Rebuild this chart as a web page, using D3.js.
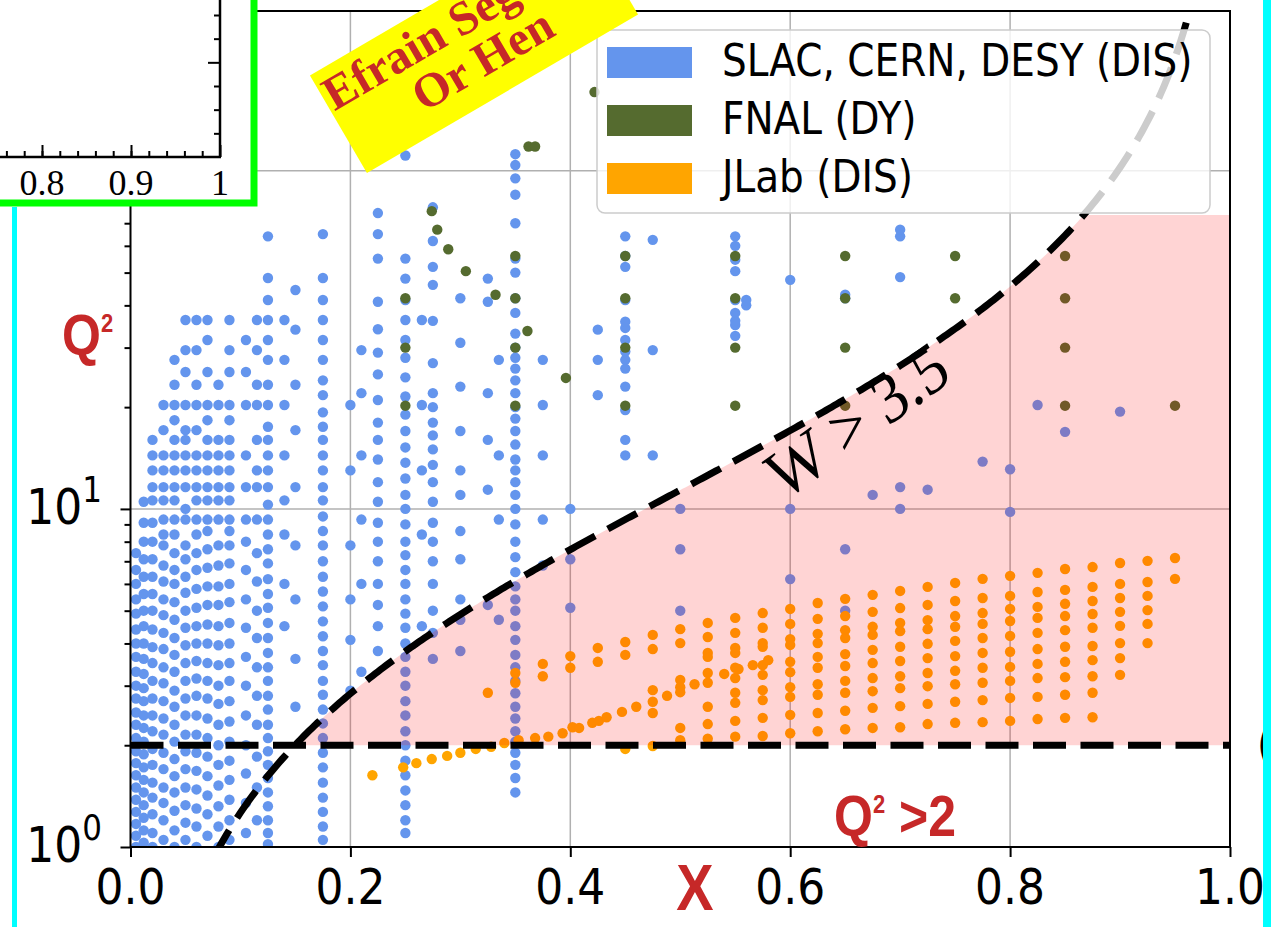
<!DOCTYPE html>
<html>
<head>
<meta charset="utf-8">
<script src="https://cdn.jsdelivr.net/npm/d3@7"></script>
<style>
body { margin: 0; background: #fff; }
svg { display: block; }
</style>
</head>
<body>
<svg id="chart" width="1271" height="927"></svg>
<script>

// ---- data (x Bjorken, Q2 in GeV^2) ----
const xTicks = [0, 0.2, 0.4, 0.6, 0.8, 1.0];
const yMajor = [1, 10, 100];
const yLabelled = [1, 10];   // 10^2 sits under the pasted inset
const legendLabels = ["SLAC, CERN, DESY (DIS)", "FNAL (DY)", "JLab (DIS)"];

// SLAC / CERN / DESY: one x per column, list of Q2 in that column
const slacX = [0.005, 0.012, 0.02, 0.03, 0.04, 0.05, 0.06, 0.07, 0.08, 0.09,
  0.105, 0.115, 0.125, 0.14, 0.15, 0.175, 0.2, 0.21, 0.225, 0.25,
  0.265, 0.275, 0.3, 0.325, 0.335, 0.35, 0.375, 0.4, 0.425, 0.45,
  0.475, 0.5, 0.55, 0.56, 0.6, 0.65, 0.675, 0.7, 0.725, 0.775,
  0.8, 0.825, 0.85, 0.9];
const slacQ2 = [
  [1.0,1.08,1.17,1.27,1.38,1.5,1.63,1.77,1.92,2.1,2.3,2.5,2.75,3.0,3.3,3.65,4.0,4.4,4.9,5.4,6.0,6.6,7.4],
  [1.03,1.12,1.22,1.33,1.45,1.58,1.72,1.88,2.05,2.25,2.45,2.7,2.95,3.25,3.6,4.0,4.5,5.0,5.6,6.3,7.1,8.0,9.1,10.5],
  [1.0,1.1,1.25,1.4,1.55,1.75,1.95,2.2,2.45,2.75,3.1,3.5,3.9,4.4,5.0,5.6,6.3,7.1,8.0,9.1,10.6,11.6,13,14.4,16],
  [1.05,1.2,1.35,1.5,1.7,1.9,2.15,2.4,2.7,3.05,3.4,3.85,4.3,4.85,5.4,6.1,6.8,7.8,8.4,9.3,10.6,11.6,13,14.4,17.1,20.3],
  [1.0,1.12,1.28,1.45,1.62,1.82,2.05,2.3,2.6,2.9,3.3,3.7,4.15,4.7,5.3,6.0,6.6,7.4,8.4,9.3,10.6,11.6,13,14.4,16,18.3,20.3,23.3,27.6],
  [1.05,1.18,1.33,1.5,1.7,1.92,2.15,2.45,2.75,3.1,3.5,3.95,4.45,5.0,5.65,6.3,7.1,7.8,9.3,10,11.6,13,14.4,16,17.1,20.3,25.4,29.5,36.2],
  [1.0,1.15,1.3,1.48,1.68,1.9,2.15,2.45,2.8,3.15,3.55,4.0,4.5,5.1,5.8,6.6,7.4,8.4,9.3,10.6,11.6,13,14.4,17.1,20.3,23.3,29.5,36.2],
  [1.08,1.25,1.42,1.62,1.85,2.1,2.4,2.75,3.1,3.5,4.0,4.55,5.2,5.9,6.7,7.6,8.6,9.3,10.6,11.6,13,14.4,16,18.3,20.3,25.4,31.6,36.2],
  [1.0,1.15,1.32,1.52,1.75,2.0,2.3,2.65,3.0,3.45,3.95,4.5,5.2,5.9,6.8,7.8,9.3,10.6,11.6,13,14.4,16,20.3,23.3],
  [1.05,1.2,1.38,1.58,1.8,2.05,2.35,2.7,3.1,3.5,4.0,4.6,5.3,6.0,6.9,7.8,8.6,9.3,10.6,11.6,13,14.4,16,18.3,20.3,25.4,29.5,36.2],
  [1.1,1.35,1.65,2.0,2.45,3.0,3.65,4.45,5.4,6.6,8.0,9.3,11.6,14.4,20.3,25.4,31.6],
  [1.2,1.5,1.85,2.3,2.8,3.4,4.15,5.0,6.1,7.4,9.3,11.6,13,16,20.3,23.3,29.5,36.2],
  [1.02,1.1,1.2,1.32,1.45,1.6,1.75,1.92,2.1,2.3,2.55,2.8,3.1,3.4,3.75,4.15,4.6,5.1,5.6,6.2,6.9,7.6,8.4,9.3,10.3,11.6,13,14.4,16,17.5,20.3,23.3,27.6,31.6,36.2,41.5,48.2,64],
  [4.5,6.0,8.4,10.6,14.4,20.3,27.6,36.2],
  [2.6,3.6,5.4,7.8,11.6,17.1,23.3,33.9,44.4],
  [1.05,1.15,1.27,1.4,1.55,1.72,1.9,2.1,2.32,2.55,2.82,3.1,3.45,3.8,4.2,4.65,5.15,5.7,6.3,7.0,7.8,8.6,9.5,10.6,11.6,13,14.4,16,17.5,19.3,21.7,24,27.6,31.6,36.2,41.5,48.2,65],
  [2.9,4.1,5.4,7.8,13,20.3],
  [3.3,6.0,9.3,14.4,22,29.5],
  [3.8,4.5,5.2,6.0,7.0,8.0,9.1,10.5,12,14,16,18,21,25,29,34,41,55,65,75],
  [1.1,1.2,1.33,1.47,1.63,1.8,2.0,2.2,2.45,2.7,3.0,3.3,3.65,4.0,4.45,4.9,5.4,6.0,6.6,7.3,8.0,9.0,10,11,12.3,13.7,15.2,17,19,21.5,24.5,28,31.6,36.2,41.5,48,55,111],
  [4.5,8.4,13,20.3,36.2],
  [3.6,4.3,5.0,6.0,7.0,8.0,9.1,10.5,12,13.5,15,16.5,18,20,22,27,36,46,52,62,78],
  [3.8,4.7,5.4,7.1,8.6,11,13,17,23,31,42],
  [5.2,11.4,16,22,41,48],
  [4.7,9.3,14.4,27.6],
  [1.45,1.6,1.75,1.9,2.05,2.2,2.4,2.6,2.85,3.1,3.4,3.7,4.1,4.5,5.0,5.4,5.9,6.5,7.2,8.0,9.0,10.0,11,12,13,14,15.5,17,18.5,20,22,24,26,28,30,33,38,42,50,55,70,85,95,104,112],
  [6.8,9.3,14.4,20.3,27.6],
  [5.1,7.1,10],
  [21.7,27.6,33.9],
  [14.4,16,19.6,23,26,27.6,29.2,31.6,34.3,35.8,41.5,52,56,64],
  [14.4,29.5,62.5],
  [5.0,7.6,10],
  [32.5,35,36,38,41.5,50.5,54.6,60,64],
  [40,41.5],
  [6.2,10,47.6],
  [5.0,7.6,42,43],
  [11],
  [10,11.6,48.5,64,67],
  [11.4],
  [13.8],
  [9.8,13.1],
  [20.3],
  [16.9],
  [19.4]
];

// FNAL Drell-Yan points
const fnalX = [0.25,0.25,0.25, 0.274,0.279,0.289,0.305,0.332,0.361,0.396,
  0.35,0.35,0.35,0.35, 0.362,0.368, 0.422,
  0.45,0.45,0.45,0.45, 0.55,0.55,0.55,0.55, 0.65,0.65,0.65,0.65,
  0.75,0.75, 0.85,0.85,0.85,0.85, 0.95];
const fnalQ2 = [42,30,20.2, 76,67,58.6,50.5,43,33.6,24.4,
  56,42,30,20.2, 118,118, 171,
  56,42,30,20.2, 56,42,30,20.2, 56,42,30,20.2,
  56,42, 56,42,30,20.2, 20.2];

// JLab: grid columns
const jlabX = [0.325, 0.35, 0.375, 0.4, 0.425, 0.45, 0.475, 0.5, 0.525, 0.55, 0.575,
  0.6, 0.625, 0.65, 0.675, 0.7, 0.725, 0.75, 0.775, 0.8, 0.825, 0.85, 0.875, 0.9, 0.925, 0.95];
const jlabQ2 = [
  [2.86],
  [3.27,3.06],
  [3.48,3.2],
  [3.67,3.39],
  [3.88,3.53],
  [4.04,3.7,1.95],
  [4.24,3.85,2.91,2.69,2.49,1.99],
  [4.41,4.01,3.12,2.97,2.87,2.25,2.07],
  [4.6,4.18,3.75,3.65,3.27,3.06,2.6,2.31,2.09],
  [4.76,4.3,3.88,3.75,3.39,3.16,2.86,2.67,2.36,2.12],
  [4.92,4.45,4.01,3.91,3.45,3.23,2.91,2.72,2.41,2.13],
  [5.06,4.57,4.12,3.96,3.53,3.29,2.97,2.78,2.46,2.17],
  [5.27,4.73,4.27,4.01,3.65,3.39,3.03,2.82,2.49,2.2],
  [5.42,4.82,4.38,4.15,3.72,3.43,3.1,2.86,2.53,2.23],
  [5.57,4.96,4.48,4.24,3.83,3.5,3.16,2.89,2.58,2.25],
  [5.72,5.09,4.6,4.35,3.91,3.55,3.2,2.95,2.61,2.26],
  [5.88,5.2,4.69,4.41,3.99,3.62,3.27,2.99,2.65,2.31],
  [6.04,5.34,4.82,4.48,4.07,3.67,3.32,3.03,2.69,2.33],
  [6.21,5.45,4.92,4.57,4.15,3.75,3.39,3.06,2.72,2.34],
  [6.34,5.53,5.06,4.66,4.21,3.78,3.41,3.1,2.76,2.36],
  [6.47,5.68,5.13,4.76,4.3,3.85,3.48,3.16,2.78,2.39],
  [6.64,5.76,5.24,4.82,4.38,3.91,3.53,3.18,2.82,2.41],
  [6.73,5.88,5.34,4.89,4.45,3.93,3.57,3.2,2.86,2.42],
  [6.92,6.0,5.45,4.96,4.51,4.01,3.62,3.23],
  [7.02,6.08,5.53,5.02,4.57,4.01],
  [7.16,6.21]
];
// JLab: low-Q2 diagonal run
const jlabLowX = [0.22,0.248,0.26,0.274,0.288,0.3,0.314,0.328,0.34,0.353,0.368,0.38,0.393,
  0.402,0.408,0.42,0.426,0.433,0.447,0.46,0.488,0.513,0.54,0.553,0.566,0.58];
const jlabLowQ2 = [1.63,1.72,1.77,1.82,1.86,1.9,1.95,1.98,2.03,2.07,2.1,2.12,2.17,
  2.26,2.25,2.33,2.36,2.42,2.51,2.6,2.8,3.03,3.25,3.36,3.45,3.57];

// kinematic cuts
const W_CUT = 3.5, M_P = 0.938, Q2_CUT = 2, Q2_BAND_TOP = 74;

// ---- drawing ----
const SY = 1.15; // the picture is stretched a little vertically
const colors = {slac: "#6495ed", fnal: "#556b2f", jlab: "#ffa500"};
const svg = d3.select("#chart");

const x = d3.scaleLinear().domain([0, 1]).range([130.5, 1230]);
const y = d3.scaleLog().domain([1, 297]).range([847, 11]);

svg.append("defs").append("clipPath").attr("id", "plotclip")
  .append("rect").attr("x", x(0)).attr("y", y(297))
  .attr("width", x(1) - x(0)).attr("height", y(1) - y(297));

// grid
const grid = svg.append("g").attr("stroke", "#b0b0b0").attr("stroke-width", 1.5);
xTicks.slice(1, -1).forEach(t => grid.append("line")
  .attr("x1", x(t)).attr("x2", x(t)).attr("y1", y(297)).attr("y2", y(1)));
yMajor.slice(1).forEach(t => grid.append("line")
  .attr("x1", x(0)).attr("x2", x(1)).attr("y1", y(t)).attr("y2", y(t)));

const plot = svg.append("g").attr("clip-path", "url(#plotclip)");

function flatten(xs, qs) {
  const out = [];
  xs.forEach((xv, i) => qs[i].forEach(q => out.push([xv, q])));
  return out;
}
const slacPts = flatten(slacX, slacQ2);
const fnalPts = fnalX.map((v, i) => [v, fnalQ2[i]]);
const jlabPts = flatten(jlabX, jlabQ2).concat(jlabLowX.map((v, i) => [v, jlabLowQ2[i]]));

[[slacPts, colors.slac], [fnalPts, colors.fnal], [jlabPts, colors.jlab]].forEach(([pts, c]) => {
  plot.append("g").selectAll("circle").data(pts).enter().append("circle")
    .attr("cx", d => x(d[0])).attr("cy", d => y(d[1]))
    .attr("r", 5.2).attr("fill", c);
});

// W cut curve
const wQ2 = xv => (W_CUT * W_CUT - M_P * M_P) * xv / (1 - xv);
const xs = d3.range(0.075, 0.97, 0.0025);
const xStart = Q2_CUT / (Q2_CUT + W_CUT * W_CUT - M_P * M_P);
const bandX = [xStart].concat(xs.filter(v => v > xStart)).concat([1]);

plot.append("path")
  .datum(bandX)
  .attr("d", d3.area()
    .x(d => x(d))
    .y0(y(Q2_CUT))
    .y1(d => y(Math.min(d >= 1 ? Q2_BAND_TOP : wQ2(d), Q2_BAND_TOP))))
  .attr("fill", "#ff0000").attr("fill-opacity", 0.17);

plot.append("line")
  .attr("x1", x(0)).attr("x2", x(1)).attr("y1", y(Q2_CUT)).attr("y2", y(Q2_CUT))
  .attr("stroke", "#000").attr("stroke-width", 7).attr("stroke-dasharray", "33,14.5");

plot.append("path")
  .datum(xs)
  .attr("d", d3.line().x(d => x(d)).y(d => y(wQ2(d))))
  .attr("fill", "none").attr("stroke", "#000").attr("stroke-width", 7)
  .attr("stroke-dasharray", "33,14.5");

// axes
const xAxis = svg.append("g").attr("transform", `translate(0,${y(1)})`)
  .call(d3.axisBottom(x).tickValues(xTicks).tickSize(10).tickFormat(""));
const yAxis = svg.append("g").attr("transform", `translate(${x(0)},0)`)
  .call(d3.axisLeft(y).tickValues(yMajor).tickSize(10).tickFormat(""));
const yMinor = [];
[1, 10, 100].forEach(d => d3.range(2, 10).forEach(k => { if (d * k < 297) yMinor.push(d * k); }));
svg.append("g").attr("transform", `translate(${x(0)},0)`)
  .call(d3.axisLeft(y).tickValues(yMinor).tickSize(6).tickFormat(""))
  .select(".domain").remove();
svg.selectAll(".tick line").attr("stroke", "#000").attr("stroke-width", 2);
xAxis.select(".domain").remove();
yAxis.select(".domain").remove();

// frame
svg.append("rect").attr("x", x(0)).attr("y", y(297))
  .attr("width", x(1) - x(0)).attr("height", y(1) - y(297))
  .attr("fill", "none").attr("stroke", "#000").attr("stroke-width", 2);

function sText(px, py, str, size, family, anchor) {
  const g = svg.append("g").attr("transform", `translate(${px},${py}) scale(1,${SY})`);
  const t = g.append("text").attr("font-size", size).attr("font-family", family)
    .attr("text-anchor", anchor || "start").attr("fill", "#000");
  if (str) t.text(str);
  return t;
}
const SANS = "DejaVu Sans, sans-serif";

xTicks.forEach(t => sText(x(t), 904, d3.format(".1f")(t), 44, SANS, "middle"));
yLabelled.forEach(t => {
  const e = Math.round(Math.log10(t));
  const txt = sText(102, y(t) + 15, null, 44, SANS, "end");
  txt.append("tspan").text("10");
  txt.append("tspan").attr("font-size", 31).attr("dy", -19).text(e);
});

// legend
const lg = svg.append("g");
lg.append("rect").attr("x", 597).attr("y", 30).attr("width", 613).attr("height", 183)
  .attr("rx", 8).attr("fill", "#fff").attr("fill-opacity", 0.8)
  .attr("stroke", "#cccccc").attr("stroke-width", 1.5);
[colors.slac, colors.fnal, colors.jlab].forEach((c, i) => {
  const cy = 62 + i * 58;
  lg.append("rect").attr("x", 607).attr("y", cy - 15).attr("width", 85).attr("height", 31).attr("fill", c);
  sText(722, cy + 14, legendLabels[i], 39, SANS, "start");
});

// annotations
const RED = "#c62828";
sText(783, 502, null, 62, "Liberation Serif, Times New Roman, serif")
  .attr("transform", "rotate(-32)").text("W > 3.5");

const q2L = sText(62, 355, null, 50, "Liberation Sans, Arial, sans-serif")
  .attr("font-weight", "bold").attr("fill", RED);
q2L.append("tspan").text("Q");
q2L.append("tspan").attr("font-size", 22).attr("dy", -20).text("2");

sText(695, 910, "X", 56, "Liberation Sans Narrow, Liberation Sans, sans-serif", "middle")
  .attr("font-weight", "bold").attr("fill", RED);

const q2R = sText(834, 836, null, 50, "Liberation Sans, Arial, sans-serif")
  .attr("font-weight", "bold").attr("fill", RED);
q2R.append("tspan").text("Q");
q2R.append("tspan").attr("font-size", 22).attr("dy", -20).text("2");
q2R.append("tspan").attr("dy", 20).attr("font-size", 50).text(" >2");

sText(1257, 760, "(", 40, SANS, "start");

// yellow name tag
const tag = svg.append("g").attr("transform", "translate(474,45) rotate(-30.3)");
tag.append("rect").attr("x", -157).attr("y", -56.5).attr("width", 314).attr("height", 113).attr("fill", "#ffff00");
tag.append("text").attr("x", 0).attr("y", -13).attr("text-anchor", "middle")
  .attr("font-family", "Liberation Serif, Times New Roman, serif").attr("font-weight", "bold")
  .attr("font-size", 48).attr("fill", RED).text("Efrain Segarra");
tag.append("text").attr("x", 0).attr("y", 33).attr("text-anchor", "middle")
  .attr("font-family", "Liberation Serif, Times New Roman, serif").attr("font-weight", "bold")
  .attr("font-size", 48).attr("fill", RED).text("Or Hen");

// inset from another figure, top-left
const inset = svg.append("g");
inset.append("rect").attr("x", -10).attr("y", -10).attr("width", 264).attr("height", 213)
  .attr("fill", "#fff").attr("stroke", "#00ff00").attr("stroke-width", 7);
const ix = d3.scaleLinear().domain([0.8, 1]).range([42, 220]);
const iy = d3.scaleLinear().domain([0.2, 1.4]).range([157, 15]);
inset.append("g").attr("transform", "translate(0,157)")
  .call(d3.axisBottom(ix).tickValues([0.8, 0.9, 1]).tickSize(-12).tickFormat(""));
inset.append("g").attr("transform", "translate(0,157)")
  .call(d3.axisBottom(ix).tickValues(d3.range(0.76, 1, 0.02)).tickSize(-6).tickFormat(""));
inset.append("g").attr("transform", "translate(220,0)")
  .call(d3.axisLeft(iy).tickValues([1.0]).tickSize(12).tickFormat(""));
inset.append("g").attr("transform", "translate(220,0)")
  .call(d3.axisLeft(iy).tickValues([0.4, 0.6, 0.8, 1.2, 1.4]).tickSize(6).tickFormat(""));
inset.selectAll(".domain").remove();
inset.selectAll(".tick line").attr("stroke", "#000").attr("stroke-width", 2);
inset.append("line").attr("x1", 0).attr("x2", 221).attr("y1", 157).attr("y2", 157).attr("stroke", "#000").attr("stroke-width", 2.5);
inset.append("line").attr("x1", 220).attr("x2", 220).attr("y1", 0).attr("y2", 157).attr("stroke", "#000").attr("stroke-width", 2.5);
[["0.8", 0.8], ["0.9", 0.9], ["1", 1]].forEach(([s, v]) => inset.append("text")
  .attr("x", ix(v)).attr("y", 195).attr("text-anchor", "middle")
  .attr("font-family", "Liberation Serif, Times New Roman, serif").attr("font-size", 36).text(s));

// slide edges
svg.append("rect").attr("x", 12).attr("y", 207).attr("width", 5).attr("height", 720).attr("fill", "#00ffff");
svg.append("rect").attr("x", 1263).attr("y", 0).attr("width", 8).attr("height", 927).attr("fill", "#00ffff");

</script>
</body>
</html>
